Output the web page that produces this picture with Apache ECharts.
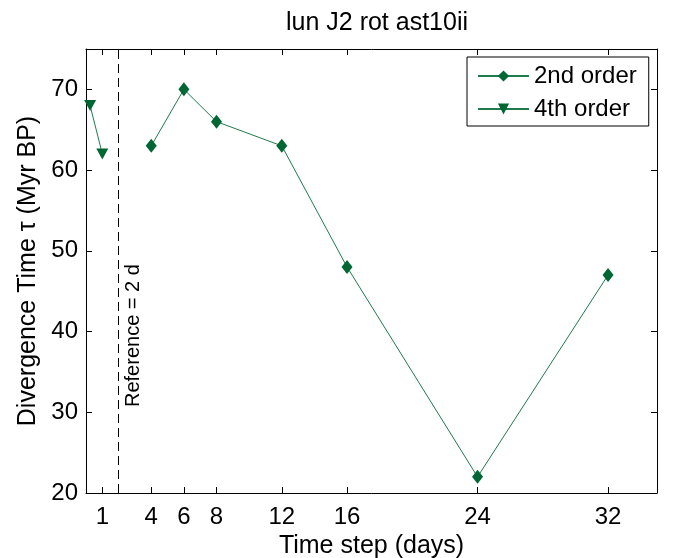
<!DOCTYPE html>
<html>
<head>
<meta charset="utf-8">
<script src="https://cdn.jsdelivr.net/npm/echarts@6/dist/echarts.min.js"></script>
<style>
  html, body { margin: 0; padding: 0; background: #fff; }
  #chart { width: 676px; height: 558px; }
</style>
</head>
<body>
<div id="chart"></div>
<script>
// Divergence time vs. integration step
const steps2nd = [4, 6, 8, 12, 16, 24, 32];
const tau2nd = [63, 70, 66, 63, 48, 22, 47];
const steps4th = [0.25, 1];
const tau4th = [68, 62];
const xTickValues = [1, 4, 6, 8, 12, 16, 24, 32];
const yTickValues = [20, 30, 40, 50, 60, 70];
const referenceStep = 2;
const referenceLabel = 'Reference = 2 d';

const FONT = 'Liberation Sans, Arial, Helvetica, sans-serif';
const FS = 24;
const markColor = '#006633';
const lineColor = '#1f7a4c';

const chart = echarts.init(document.getElementById('chart'));

const baseX = {
  type: 'value', min: 0, max: 35,
  splitLine: { show: false },
  axisLine: { show: true, onZero: false, lineStyle: { color: '#000', width: 1 } },
  axisTick: { inside: true, length: 6, customValues: xTickValues, lineStyle: { color: '#000' } },
  axisLabel: { customValues: xTickValues }
};
const baseY = {
  type: 'value', min: 20, max: 75,
  splitLine: { show: false },
  axisLine: { show: true, onZero: false, lineStyle: { color: '#000', width: 1 } },
  axisTick: { inside: true, length: 6, customValues: yTickValues, lineStyle: { color: '#000' } },
  axisLabel: { customValues: yTickValues }
};

chart.setOption({
  animation: false,
  backgroundColor: '#fff',
  textStyle: { fontFamily: FONT },
  title: {
    text: 'lun J2 rot ast10ii',
    left: 372, top: 6, textAlign: 'center',
    textStyle: { fontFamily: FONT, fontSize: 25, fontWeight: 'normal', color: '#000' }
  },
  grid: { left: 86, right: 19, top: 49, bottom: 65, containLabel: false, outerBoundsMode: 'none' },
  legend: {
    left: 467, top: 57,
    orient: 'vertical',
    data: ['2nd order', '4th order'],
    itemWidth: 51, itemHeight: 14, itemGap: 9,
    padding: [7, 12, 5, 10],
    borderColor: '#000', borderWidth: 1, borderRadius: 0,
    backgroundColor: '#fff',
    textStyle: { fontFamily: FONT, fontSize: FS, color: '#000' }
  },
  xAxis: [
    Object.assign({}, baseX, {
      position: 'bottom',
      name: 'Time step (days)', nameLocation: 'middle', nameGap: 37,
      nameTextStyle: { fontFamily: FONT, fontSize: 25, color: '#000' },
      axisLabel: { customValues: xTickValues, margin: 12, fontFamily: FONT, fontSize: FS, color: '#000' }
    }),
    Object.assign({}, baseX, { position: 'top', axisLabel: { show: false } })
  ],
  yAxis: [
    Object.assign({}, baseY, {
      position: 'left',
      name: 'Divergence Time τ (Myr BP)', nameLocation: 'middle', nameGap: 45,
      nameTextStyle: { fontFamily: FONT, fontSize: 25, color: '#000' },
      axisLabel: { customValues: yTickValues, margin: 8, fontFamily: FONT, fontSize: FS, color: '#000' }
    }),
    Object.assign({}, baseY, { position: 'right', axisLabel: { show: false } })
  ],
  series: [
    {
      name: '2nd order', type: 'line',
      data: steps2nd.map((s, i) => [s, tau2nd[i]]),
      symbol: 'diamond', symbolSize: [11, 14],
      itemStyle: { color: markColor },
      lineStyle: { color: lineColor, width: 1 },
      markLine: {
        silent: true, symbol: 'none',
        lineStyle: { color: '#000', type: [9, 5], width: 1 },
        label: { show: false },
        data: [{ xAxis: referenceStep }]
      }
    },
    {
      name: '4th order', type: 'line',
      data: steps4th.map((s, i) => [s, tau4th[i]]),
      symbol: 'triangle', symbolRotate: 180, symbolSize: [12, 11],
      itemStyle: { color: markColor },
      lineStyle: { color: lineColor, width: 1 },
      z: 3
    },
    {
      // rotated caption beside the reference line
      name: 'ref-label', type: 'scatter',
      data: [[referenceStep, 39.5]],
      symbolSize: 0, silent: true,
      itemStyle: { opacity: 1 },
      label: {
        show: true, formatter: referenceLabel, rotate: 90,
        position: 'inside', offset: [0, 15], opacity: 1,
        fontFamily: FONT, fontSize: 20, color: '#000'
      }
    }
  ]
});
</script>
</body>
</html>
